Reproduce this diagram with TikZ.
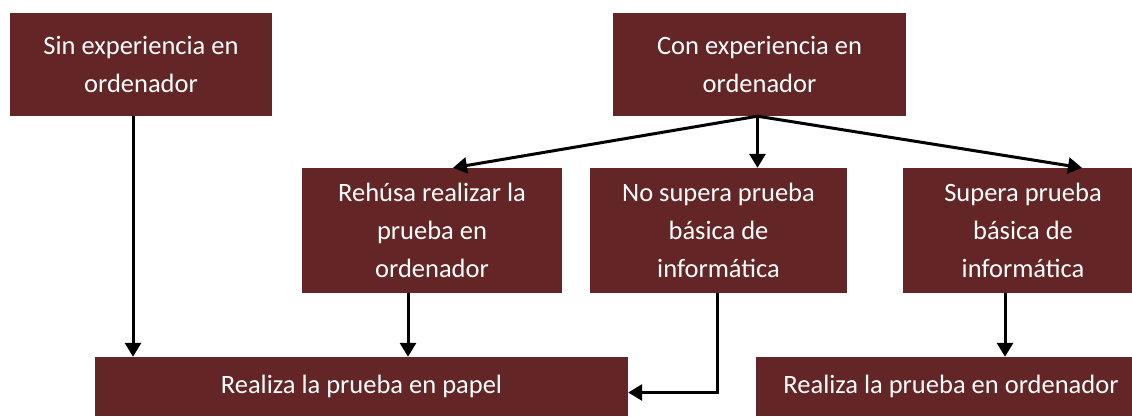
\documentclass[tikz,border=0pt]{standalone}
\usepackage{fontspec}
\setmainfont{Carlito}
\usetikzlibrary{arrows.meta}
\definecolor{granate}{RGB}{99,37,38}

\begin{document}
\begin{tikzpicture}[x=1pt, y=-1pt,
  caja/.style={fill=granate, text=white, align=center, inner sep=0pt,
    font=\fontsize{26.5}{38}\selectfont},
  flecha/.style={line width=3pt, -{Triangle[length=14pt,width=16pt]}}]
\useasboundingbox (0,0) rectangle (1132,416);
\node[caja, minimum width=262pt, minimum height=103pt](sin) at (141,64.5){Sin experiencia en\\ordenador};
\node[caja, minimum width=293pt, minimum height=103pt](con) at (759.5,64.5){Con experiencia en\\ordenador};
\node[caja, minimum width=260pt, minimum height=125pt](rehusa) at (432,230.5){Rehúsa realizar la\\prueba en\\ordenador};
\node[caja, minimum width=257pt, minimum height=125pt](nosupera) at (718.5,230.5){No supera prueba\\básica de\\informática};
\node[caja, minimum width=240pt, minimum height=125pt](supera) at (1023,230.5){Supera prueba\\básica de\\informática};
\node[caja, minimum width=533pt, minimum height=59pt](papel) at (361.5,386.5){Realiza la prueba en papel};
\node[caja, minimum width=390pt, minimum height=59pt](ordena) at (951,386.5){Realiza la prueba en ordenador};
\draw[flecha] ([xshift=-8pt]sin.south) -- ([xshift=-8pt]sin.south |- papel.north);
\draw[flecha] ([xshift=-2pt]con.south) -- ([xshift=21pt]rehusa.north);
\draw[flecha] ([xshift=-2pt]con.south) -- ([xshift=-2pt]con.south |- nosupera.north);
\draw[flecha] ([xshift=-2pt]con.south) -- ([xshift=59pt]supera.north);
\draw[flecha] ([xshift=-24pt]rehusa.south) -- ([xshift=-24pt]rehusa.south |- papel.north);
\draw[flecha] ([xshift=-1pt]nosupera.south) |- ([yshift=-6pt]papel.east);
\draw[flecha] ([xshift=-18pt]supera.south) -- ([xshift=-18pt]supera.south |- ordena.north);
\end{tikzpicture}
\end{document}
